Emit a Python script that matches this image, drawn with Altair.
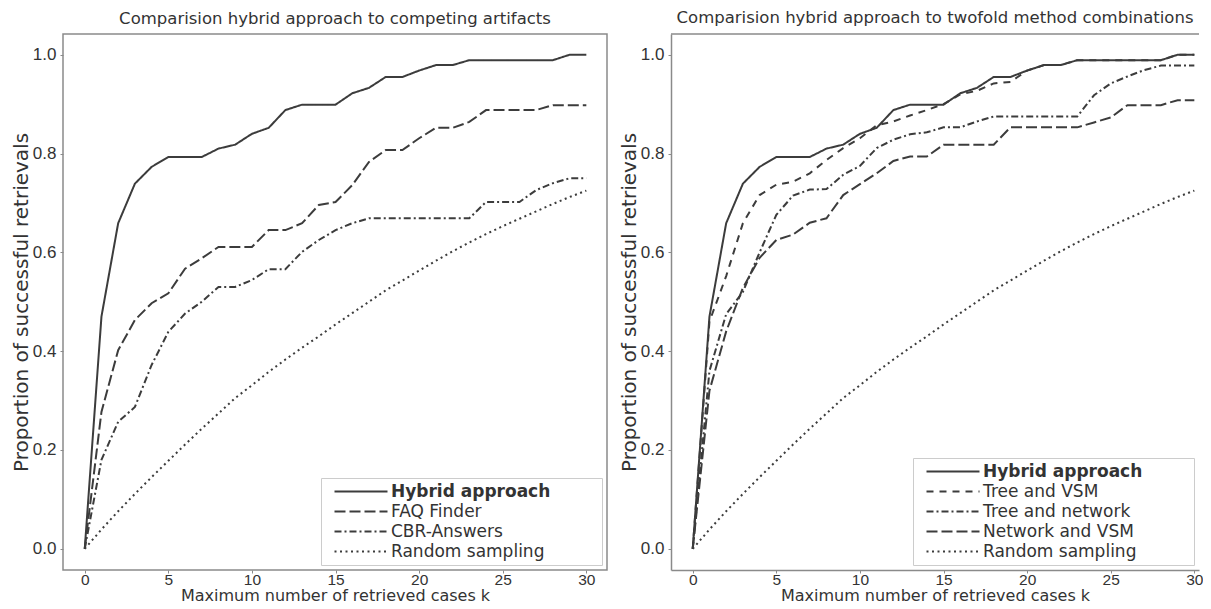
import altair as alt
import pandas as pd

# ---------------- data ----------------
k = list(range(31))

hybrid = [0.0, 0.47, 0.659, 0.739, 0.773, 0.793, 0.793, 0.793, 0.81, 0.818, 0.84,
          0.852, 0.888, 0.899, 0.899, 0.899, 0.922, 0.933, 0.955, 0.955, 0.968,
          0.979, 0.979, 0.989, 0.989, 0.989, 0.989, 0.989, 0.989, 1.0, 1.0]
faq_finder = [0.0, 0.277, 0.402, 0.463, 0.497, 0.517, 0.567, 0.588, 0.611, 0.611, 0.611,
              0.645, 0.645, 0.659, 0.696, 0.702, 0.736, 0.783, 0.807, 0.807, 0.831,
              0.852, 0.852, 0.864, 0.888, 0.888, 0.888, 0.888, 0.898, 0.898, 0.898]
cbr_answers = [0.0, 0.18, 0.257, 0.287, 0.372, 0.439, 0.476, 0.5, 0.53, 0.53, 0.544,
               0.566, 0.566, 0.601, 0.625, 0.645, 0.659, 0.669, 0.669, 0.669, 0.669,
               0.669, 0.669, 0.669, 0.702, 0.702, 0.702, 0.726, 0.74, 0.75, 0.75]
random_sampling = [0.0, 0.039, 0.076, 0.111, 0.145, 0.178, 0.211, 0.243, 0.274, 0.305, 0.331,
                   0.358, 0.383, 0.407, 0.430, 0.454, 0.477, 0.500, 0.523, 0.543, 0.563,
                   0.583, 0.602, 0.620, 0.637, 0.653, 0.668, 0.683, 0.698, 0.712, 0.725]
tree_vsm = [0.0, 0.46, 0.552, 0.659, 0.716, 0.737, 0.743, 0.76, 0.787, 0.811, 0.831,
            0.857, 0.865, 0.877, 0.888, 0.9, 0.92, 0.927, 0.942, 0.945, 0.968,
            0.979, 0.979, 0.989, 0.989, 0.989, 0.989, 0.989, 0.989, 1.0, 1.0]
tree_network = [0.0, 0.36, 0.475, 0.52, 0.6, 0.676, 0.715, 0.727, 0.728, 0.757, 0.775,
                0.811, 0.828, 0.839, 0.843, 0.853, 0.853, 0.865, 0.875, 0.875, 0.875,
                0.875, 0.875, 0.875, 0.918, 0.942, 0.956, 0.969, 0.978, 0.978, 0.978]
network_vsm = [0.0, 0.32, 0.44, 0.528, 0.589, 0.625, 0.636, 0.66, 0.669, 0.716, 0.738,
               0.76, 0.785, 0.794, 0.794, 0.818, 0.818, 0.818, 0.818, 0.853, 0.853,
               0.853, 0.853, 0.853, 0.863, 0.873, 0.898, 0.898, 0.898, 0.908, 0.908]

left_names = ["Hybrid approach", "FAQ Finder", "CBR-Answers", "Random sampling"]
left_values = [hybrid, faq_finder, cbr_answers, random_sampling]
right_names = ["Hybrid approach", "Tree and VSM", "Tree and network",
               "Network and VSM", "Random sampling"]
right_values = [hybrid, tree_vsm, tree_network, network_vsm, random_sampling]

x_ticks = [0, 5, 10, 15, 20, 25, 30]
y_ticks = [0.0, 0.2, 0.4, 0.6, 0.8, 1.0]

left_title = "Comparision hybrid approach to competing artifacts"
right_title = "Comparision hybrid approach to twofold method combinations"
x_title = "Maximum number of retrieved cases k"
y_title = "Proportion of successful retrievals"

# ---------------- styling ----------------
INK = "#3c3c3c"
TEXT = "#333333"
FRAME = "#8a8a8a"
FONT = "DejaVu Sans"
TICK_FONT = "Liberation Sans"
SOLID, LONG, SHORT, DASHDOT, DOT = [1, 0], [11, 4], [7, 6], [7, 3, 2, 3], [2, 3.5]
left_dashes = [SOLID, LONG, DASHDOT, DOT]
right_dashes = [SOLID, SHORT, DASHDOT, LONG, DOT]

PX_PER_K = 16.72
PANEL_H = 536
LEFT_W = 544
RIGHT_W = 528
Y_DOMAIN = [-0.043, 1.042]


def long_frame(names, values):
    rows = []
    for name, vals in zip(names, values):
        for kk, vv in zip(k, vals):
            rows.append({"k": kk, "v": vv, "series": name})
    return pd.DataFrame(rows)


def panel(names, values, dashes, title, width, boxed):
    df = long_frame(names, values)
    x_domain = [-1.3, -1.3 + width / PX_PER_K]
    legend = alt.Legend(
        # invisible title on the right only widens the box like the reference
        title="WW",
        titleOrient="right",
        titleOpacity=0,
        titleFontSize=17,
        titleFontWeight="normal",
        titlePadding=14,
        orient="bottom-right",
        offset=5,
        padding=5,
        fillColor="white",
        strokeColor="#cccccc",
        labelFont=FONT,
        labelFontSize=17,
        labelColor=TEXT,
        labelOffset=48,
        labelLimit=400,
        labelFontWeight=alt.ExprRef(
            "datum.value === 'Hybrid approach' ? 'bold' : 'normal'"),
        rowPadding=2,
        symbolType="M0,0L10.6,0",
        symbolSize=100,
        symbolStrokeWidth=2,
        symbolStrokeColor=INK,
        symbolFillColor="transparent",
    )
    lines = alt.Chart(df).mark_line(color=INK, strokeWidth=2).encode(
        x=alt.X("k:Q",
                scale=alt.Scale(domain=x_domain, nice=False, zero=False),
                axis=alt.Axis(values=x_ticks, title=x_title, format="d",
                              domain=not boxed)),
        y=alt.Y("v:Q",
                scale=alt.Scale(domain=Y_DOMAIN, nice=False, zero=False),
                axis=alt.Axis(values=y_ticks, title=y_title, format=".1f",
                              domain=not boxed)),
        strokeDash=alt.StrokeDash("series:N",
                                  scale=alt.Scale(domain=names, range=dashes),
                                  sort=names, legend=legend),
    )
    title_params = alt.Title(title, font=FONT, fontSize=16.5, fontWeight="normal",
                             color=TEXT, offset=6.5, anchor="middle")
    if boxed:
        return lines.properties(
            width=width, height=PANEL_H, title=title_params,
            view=alt.ViewBackground(stroke=FRAME, strokeWidth=1.5),
        )
    top_edge = alt.Chart(pd.DataFrame({"edge": [0]})).mark_rule(
        color=FRAME, strokeWidth=1.5
    ).encode(x=alt.value(0), x2=alt.value(width), y=alt.value(0))
    return alt.layer(lines, top_edge).properties(
        width=width, height=PANEL_H, title=title_params,
        view=alt.ViewBackground(stroke=None),
    )


left = panel(left_names, left_values, left_dashes, left_title, LEFT_W, True)
right = panel(right_names, right_values, right_dashes, right_title, RIGHT_W, False)

chart = alt.hconcat(left, right, spacing=11).resolve_scale(
    strokeDash="independent", x="independent", y="independent"
).resolve_legend(strokeDash="independent").properties(
    padding={"left": 3, "top": 2, "right": 0, "bottom": 0}
).configure_axis(
    grid=False,
    domainColor=FRAME, domainWidth=1.5,
    tickColor=FRAME, tickSize=3, tickWidth=1,
    labelFont=TICK_FONT, labelColor=TEXT,
    titleFont=FONT, titleFontWeight="normal", titleColor=TEXT,
).configure_axisY(
    labelFontSize=17, labelPadding=4, titleFontSize=20, titlePadding=0.5
).configure_axisX(
    labelFontSize=15.5, labelPadding=-1, titleFontSize=16, titlePadding=0,
    labelFlush=False)

chart.save("out.html", embed_options={"renderer": "svg", "actions": False})
